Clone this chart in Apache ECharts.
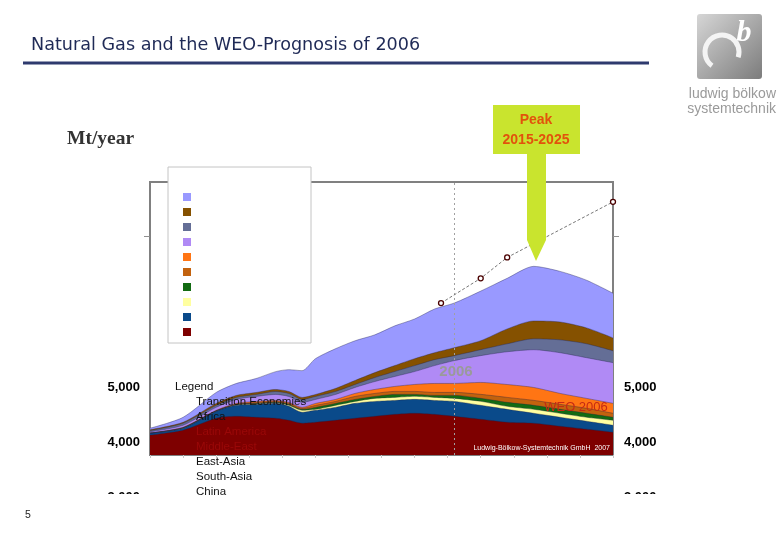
<!DOCTYPE html>
<html>
<head>
<meta charset="utf-8">
<script src="https://cdn.jsdelivr.net/npm/echarts@6/dist/echarts.min.js"></script>
<style>
html,body{margin:0;padding:0;background:#fff;}
#chart{width:780px;height:540px;}
</style>
</head>
<body>
<div id="chart"></div>
<script>
// ---- data ----
const years = [1960,1965,1970,1973,1976,1979,1981,1983,1985,1988,1991,1994,1997,2000,2003,2006,2010,2014,2018,2022,2026,2030];
const northAmerica = [365,455,673,709,691,673,636,582,600,636,673,709,745,764,745,709,655,600,582,527,473,418];
const europe       = [35,36,127,200,236,273,255,200,218,236,273,273,255,255,255,273,255,236,182,164,145,127];
const oecdPacific  = [0,0,0,9,9,9,18,36,18,36,36,55,55,55,55,55,73,55,73,73,73,91];
const china        = [0,9,9,9,9,9,18,18,36,36,36,36,55,36,36,55,55,73,73,73,73,55];
const southAsia    = [0,0,0,0,18,18,18,18,36,36,55,55,55,55,55,55,73,91,91,91,91,73];
const eastAsia     = [5,9,9,18,18,18,18,18,36,36,55,73,91,127,164,164,218,236,236,200,182,182];
const middleEast   = [20,36,55,73,91,109,109,91,73,91,109,145,182,236,327,418,491,600,691,745,745,745];
const latinAmerica = [20,36,36,36,36,55,55,55,55,55,55,73,91,109,109,91,109,145,200,236,255,218];
const africa       = [18,18,36,36,36,36,36,36,36,55,73,91,109,127,127,145,164,273,327,327,291,236];
const transition   = [27,91,200,218,255,327,400,491,655,727,727,691,727,727,800,818,909,927,1000,927,873,818];

const weoYears  = [2004,2010,2014,2030];
const weoValues = [2782,3236,3618,4636];

// bottom -> top
const seriesNames = ['North America','Europe','OECD Pacific','China','South-Asia','East-Asia','Middle-East','Latin America','Africa','Transition Economies'];
const seriesData  = [northAmerica,europe,oecdPacific,china,southAsia,eastAsia,middleEast,latinAmerica,africa,transition];
const seriesColors = ['#7e0000','#0a4a8a','#ffffa0','#126b12','#c2620e','#ff7514','#b08af5','#646e96','#855100','#9999ff'];

const legendTexts = ['Transition Economies','Africa','Latin America','Middle-East','East-Asia','South-Asia','China'];
const legendTextColors = ['#111','#111','#9a0808','#9a0808','#111','#111','#111'];
const labelTicks = [3000,4000,5000];

// ---- chart ----
const chart = echarts.init(document.getElementById('chart'), null, {renderer:'canvas'});

// cumulative totals (stack computed here, drawn top layer first so lower layers paint over)
const cumulative = [];
seriesData.forEach((arr,i)=>{
  cumulative.push(arr.map((v,k)=> v + (i>0 ? cumulative[i-1][k] : 0)));
});

const stackSeries = [];
for (let i = seriesNames.length-1; i >= 0; i--) {
  stackSeries.push({
    name:seriesNames[i], type:'line', xAxisIndex:0, yAxisIndex:0,
    data: years.map((y,k)=>[y, cumulative[i][k]]),
    symbol:'none', smooth:0.25, color:seriesColors[i],
    itemStyle:{color:seriesColors[i]},
    lineStyle:{width:0.8, color:'rgba(30,30,70,0.45)'},
    areaStyle:{color:seriesColors[i], opacity:1, origin:'start'},
    z:2
  });
}

const weoSeries = {
  name:'WEO 2006', type:'line', xAxisIndex:0, yAxisIndex:0,
  data: weoYears.map((y,k)=>[y, weoValues[k]]),
  symbol:'circle', symbolSize:5,
  itemStyle:{color:'#fff', borderColor:'#4a0000', borderWidth:1.3},
  lineStyle:{color:'#777', width:1, type:[3,2]},
  z:6,
  markLine:{
    silent:true, symbol:'none', label:{show:false},
    lineStyle:{color:'#a0a0a0', type:[2,3], width:1},
    data:[{xAxis:2006}]
  }
};

const txt = (x,y,text,font,fill,align,z) => ({
  type:'text', z: z||20,
  style:{x:x, y:y, text:text, font:font, fill:fill, align:align||'left', verticalAlign:'middle'}
});

const graphics = [
  txt(31,45,'Natural Gas and the WEO-Prognosis of 2006','17.6px "DejaVu Sans"','#1f2a56'),
  {type:'rect', z:20, shape:{x:23,y:61.5,width:626,height:3}, style:{fill:'#2e3a6e'}},
  // logo
  {type:'rect', z:20, shape:{x:697,y:14,width:65,height:65,r:3},
   style:{fill:new echarts.graphic.LinearGradient(0,0,1,1,[{offset:0,color:'#d6d6d6'},{offset:1,color:'#7c7c7c'}])}},
  {type:'arc', z:21, shape:{cx:722,cy:52,r:17,startAngle:2.2,endAngle:6.6},
   style:{stroke:'#f4f4f4', lineWidth:5, fill:null}},
  txt(744,33,'b','bold italic 30px "Liberation Serif"','#ffffff','center',22),
  txt(776,94,'ludwig bölkow','14px "Liberation Sans"','#9a9a9a','right'),
  txt(776,109,'systemtechnik','14px "Liberation Sans"','#9a9a9a','right'),
  txt(67,139,'Mt/year','bold 19.5px "Liberation Serif"','#333','left'),
  // peak callout
  {type:'polygon', z:20, shape:{points:[[493,105],[580,105],[580,154],[546,154],[546,240],[536,261],[527,240],[527,154],[493,154]]},
   style:{fill:'#c9e42e'}},
  txt(536,120,'Peak','bold 14px "Liberation Sans"','#e2520c','center',21),
  txt(536,140,'2015-2025','bold 14px "Liberation Sans"','#e2520c','center',21),
  // legend box
  {type:'rect', z:3, shape:{x:168,y:167,width:143,height:176}, style:{fill:'#fff', stroke:'#c4c4c4', lineWidth:1}},
  txt(456,372,'2006','bold 15px "Liberation Sans"','#9a9a9a','center'),
  txt(576,407,'WEO 2006','13px "Liberation Sans"','#c52a14','center'),
  txt(610,448,'Ludwig-Bölkow-Systemtechnik GmbH  2007','7px "Liberation Sans"','#ffffff','right'),
  txt(175,387,'Legend','11.5px "Liberation Sans"','#111','left'),
  // white mask that clips the lower axis labels
  {type:'rect', z:15, shape:{x:60,y:494,width:660,height:20}, style:{fill:'#fff'}},
  txt(25,515,'5','10.5px "Liberation Sans"','#222','left')
];
legendTexts.forEach((t,i)=>graphics.push(txt(196,402+i*14.9,t,'11.5px "Liberation Sans"',legendTextColors[i],'left')));

const option = {
  backgroundColor:'#fff',
  animation:false,
  legend:{
    data: seriesNames.slice().reverse(),
    orient:'vertical', left:178, top:188,
    itemWidth:8, itemHeight:8, itemGap:7, icon:'rect',
    formatter:()=>'', textStyle:{fontSize:6, lineHeight:8},
    selectedMode:false, z:5
  },
  grid:[
    {left:150, right:167, top:182, bottom:85, show:true, borderColor:'#808080', borderWidth:2, backgroundColor:'transparent'},
    {left:150, right:167, top:387, height:110, show:false}
  ],
  xAxis:[
    {type:'value', gridIndex:0, min:1960, max:2030, interval:5,
     axisLabel:{show:false}, axisLine:{show:true, lineStyle:{color:'#808080', width:2}},
     axisTick:{show:true, length:3, lineStyle:{color:'#c8c8c8'}}, splitLine:{show:false}},
    {type:'value', gridIndex:1, min:0, max:1, show:false}
  ],
  yAxis:[
    {type:'value', gridIndex:0, position:'left', min:0, max:5000, interval:4000,
     axisLabel:{show:false}, axisLine:{show:false},
     axisTick:{show:true, length:6, customValues:[4000], lineStyle:{color:'#909090'}}, splitLine:{show:false}},
    {type:'value', gridIndex:0, position:'right', min:0, max:5000, interval:4000,
     axisLabel:{show:false}, axisLine:{show:false},
     axisTick:{show:true, length:6, customValues:[4000], lineStyle:{color:'#909090'}}, splitLine:{show:false}},
    {type:'value', gridIndex:1, position:'left', min:3000, max:5000, interval:1000,
     axisLabel:{show:true, margin:10, customValues:labelTicks, formatter:v=>v.toLocaleString('en-US'),
       fontFamily:'Liberation Sans', fontSize:13, fontWeight:'bold', color:'#000'},
     axisLine:{show:false}, axisTick:{show:false}, splitLine:{show:false}},
    {type:'value', gridIndex:1, position:'right', min:3000, max:5000, interval:1000,
     axisLabel:{show:true, margin:11, customValues:labelTicks, formatter:v=>v.toLocaleString('en-US'),
       fontFamily:'Liberation Sans', fontSize:13, fontWeight:'bold', color:'#000'},
     axisLine:{show:false}, axisTick:{show:false}, splitLine:{show:false}}
  ],
  series: stackSeries.concat([weoSeries]),
  graphic: graphics
};
chart.setOption(option);
</script>
</body>
</html>
